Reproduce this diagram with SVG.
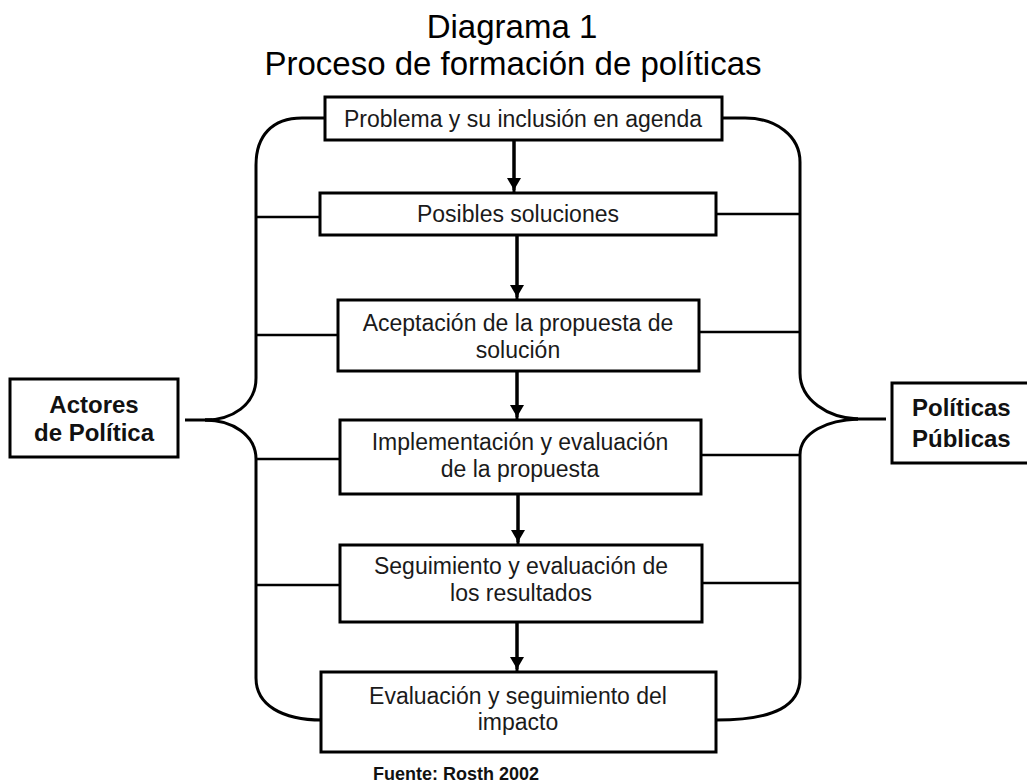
<svg xmlns="http://www.w3.org/2000/svg" width="1027" height="784" viewBox="0 0 1027 784">
<style>
.box{fill:#fff;stroke:#000;stroke-width:3}
.t{font-family:"Liberation Sans",Arial,sans-serif;font-size:23px;fill:#1a1a1a;text-anchor:middle}
.b{font-family:"Liberation Sans",Arial,sans-serif;font-weight:bold;font-size:24px;fill:#111}
.ttl{font-family:"Liberation Sans",Arial,sans-serif;font-size:33px;fill:#000;text-anchor:middle}
.ln{fill:none;stroke:#000;stroke-width:3}
.thin{fill:none;stroke:#000;stroke-width:2.5}
</style>
<defs>
<marker id="ah" markerWidth="16" markerHeight="16" refX="12" refY="7" orient="auto" markerUnits="userSpaceOnUse">
<path d="M0,0 L12,7 L0,14 Z" fill="#000"/>
</marker>
</defs>
<rect width="1027" height="784" fill="#fff"/>
<g id="title">
<text class="ttl" x="512" y="38">Diagrama 1</text>
<text class="ttl" x="513" y="75">Proceso de formación de políticas</text>
</g>
<g id="connectors">
<!-- left brace -->
<path class="ln" d="M325,118 L302,118 C272,118 256,136 256,165 L256,378 C256,405 232,420 205,420"/>
<path class="ln" d="M185,420 L212,420"/>
<path class="ln" d="M205,420 C232,420 256,435 256,459 L256,678 C256,705 282,720 322,720"/>
<!-- right brace -->
<path class="ln" d="M722,118 L745,118 C776,118 800,136 800,162 L800,373 C800,400 828,418 858,419"/>
<path class="ln" d="M852,419 L886,419"/>
<path class="ln" d="M858,419 C828,420 800,432 800,455 L800,678 C800,705 776,720 716,720"/>
<!-- side connectors -->
<path class="thin" d="M256,217 L320,217 M256,335 L338,335 M256,459 L340,459 M256,585 L340,585"/>
<path class="thin" d="M716,214 L800,214 M699,332 L800,332 M701,455 L800,455 M702,583 L800,583"/>
<!-- flow arrows -->
<path class="ln" d="M514,140 L514,192"/>
<path class="ln" d="M514,140 L514,190" marker-end="url(#ah)"/>
<path class="ln" d="M517,235 L517,300"/>
<path class="ln" d="M517,235 L517,297" marker-end="url(#ah)"/>
<path class="ln" d="M517,371 L517,420"/>
<path class="ln" d="M517,371 L517,417" marker-end="url(#ah)"/>
<path class="ln" d="M518,494 L518,545"/>
<path class="ln" d="M518,494 L518,542" marker-end="url(#ah)"/>
<path class="ln" d="M517,622 L517,672"/>
<path class="ln" d="M517,622 L517,669" marker-end="url(#ah)"/>
</g>
<g id="n1">
<rect class="box" x="325" y="97" width="397" height="43"/>
<text class="t" x="523" y="127">Problema y su inclusión en agenda</text>
</g>
<g id="n2">
<rect class="box" x="320" y="193" width="396" height="42"/>
<text class="t" x="518" y="222">Posibles soluciones</text>
</g>
<g id="n3">
<rect class="box" x="338" y="300" width="361" height="71"/>
<text class="t" x="518" y="331">Aceptación de la propuesta de</text>
<text class="t" x="518" y="358">solución</text>
</g>
<g id="n4">
<rect class="box" x="340" y="420" width="361" height="74"/>
<text class="t" x="520" y="450">Implementación y evaluación</text>
<text class="t" x="520" y="477">de la propuesta</text>
</g>
<g id="n5">
<rect class="box" x="340" y="545" width="362" height="77"/>
<text class="t" x="521" y="574">Seguimiento y evaluación de</text>
<text class="t" x="521" y="601">los resultados</text>
</g>
<g id="n6">
<rect class="box" x="321" y="672" width="395" height="80"/>
<text class="t" x="518" y="704">Evaluación y seguimiento del</text>
<text class="t" x="518" y="730">impacto</text>
</g>
<g id="actores">
<rect class="box" x="10" y="379" width="168" height="78"/>
<text class="b" x="94" y="413" text-anchor="middle">Actores</text>
<text class="b" x="94" y="441" text-anchor="middle">de Política</text>
</g>
<g id="politicas">
<rect class="box" x="892" y="383" width="142" height="80"/>
<text class="b" x="912" y="416">Políticas</text>
<text class="b" x="912" y="447">Públicas</text>
</g>
<g id="fuente">
<text x="456" y="780" font-family="Liberation Sans, Arial, sans-serif" font-weight="bold" font-size="18" fill="#111" text-anchor="middle">Fuente: Rosth 2002</text>
</g>
</svg>
